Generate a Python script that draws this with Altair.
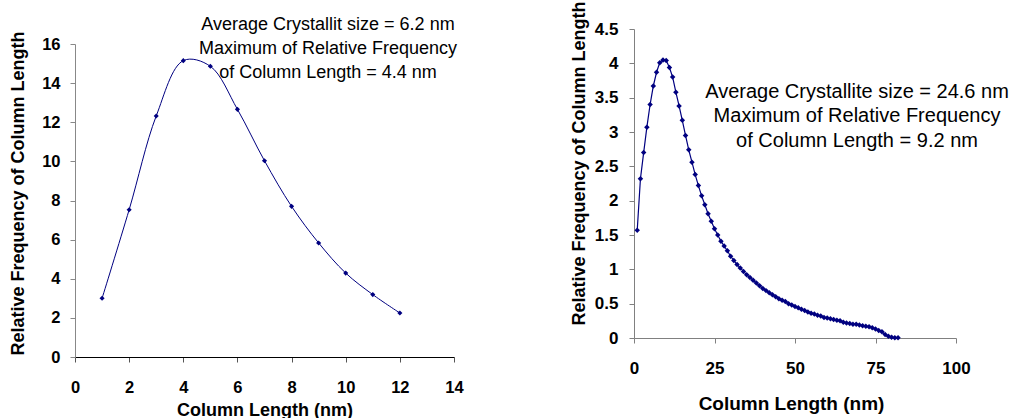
import altair as alt
import pandas as pd

# ---------------- data ----------------
left_x = [1, 2, 3, 4, 5, 6, 7, 8, 9, 10, 11, 12]
left_y = [3.0, 7.53, 12.32, 15.15, 14.86, 12.66, 10.03, 7.70, 5.83, 4.29, 3.19, 2.25]

right_x = list(range(1, 83))
right_y = [
    1.57, 2.32, 2.70, 3.07, 3.40, 3.67, 3.87, 4.01, 4.05, 4.04,
    3.94, 3.80, 3.58, 3.38, 3.17, 2.95, 2.74, 2.56, 2.38, 2.22,
    2.07, 1.94, 1.81, 1.70, 1.59, 1.50, 1.41, 1.34, 1.27,
    1.19, 1.13, 1.07, 1.02, 0.97, 0.92, 0.88, 0.84, 0.80, 0.76, 0.72,
    0.69, 0.66, 0.63, 0.60, 0.57, 0.55, 0.53, 0.50, 0.48, 0.46,
    0.44, 0.42, 0.40, 0.38, 0.36, 0.35, 0.33, 0.32, 0.30, 0.29,
    0.28, 0.27, 0.26, 0.25, 0.23, 0.22, 0.21, 0.20, 0.20, 0.19,
    0.18, 0.17, 0.165, 0.15, 0.13, 0.11, 0.09, 0.05, 0.025, 0.01, 0.005, 0.003,
]

left_xticks = [0, 2, 4, 6, 8, 10, 12, 14]
left_yticks = [0, 2, 4, 6, 8, 10, 12, 14, 16]
right_xticks = [0, 25, 50, 75, 100]
right_yticks = [0, 0.5, 1, 1.5, 2, 2.5, 3, 3.5, 4, 4.5]

left_note = ["Average Crystallit size = 6.2 nm",
             "Maximum of Relative Frequency",
             "of Column Length = 4.4 nm"]
right_note = ["Average Crystallite size = 24.6 nm",
              "Maximum of Relative Frequency",
              "of Column Length = 9.2 nm"]

x_title = "Column Length (nm)"
y_title = "Relative Frequency of Column Length"

FONT = "Liberation Sans"
NAVY = "#000080"

left_df = pd.DataFrame({"x": left_x, "y": left_y})
right_df = pd.DataFrame({"x": right_x, "y": right_y})
one = pd.DataFrame({"a": [0]})

# ---------------- left chart ----------------
LW, LH = 379, 328
lx = alt.X("x:Q", scale=alt.Scale(domain=[0, 14], nice=False, zero=False),
           axis=alt.Axis(values=left_xticks, title=x_title, labelFontSize=16.5,
                         titleFontSize=18, labelPadding=17, titlePadding=6,
                         domainColor="#000000", tickColor="#555555"))
ly = alt.Y("y:Q", scale=alt.Scale(domain=[0, 16], nice=False, range=[LH, 15]),
           axis=alt.Axis(values=left_yticks, title=y_title, labelFontSize=16.5,
                         titleFontSize=18, labelPadding=10, titlePadding=14,
                         titleY=164, domainColor="#888888", tickColor="#888888"))

l_line = alt.Chart(left_df).mark_line(color=NAVY, strokeWidth=1,
                                      interpolate="catmull-rom").encode(x=lx, y=ly)
l_pts = alt.Chart(left_df).mark_point(shape="diamond", filled=True, color=NAVY,
                                      size=26, opacity=1).encode(x=lx, y=ly)
l_txt = alt.Chart(one).mark_text(text=left_note, font=FONT, fontSize=18,
                                 align="center", baseline="top", lineHeight=24,
                                 color="black").encode(x=alt.value(253), y=alt.value(-13.5))
left = alt.layer(l_line, l_pts, l_txt).properties(width=LW, height=LH)

# ---------------- right chart ----------------
RW, RH = 322, 309
rx = alt.X("x:Q", scale=alt.Scale(domain=[0, 100], nice=False),
           axis=alt.Axis(values=right_xticks, title=x_title, labelFontSize=17,
                         titleFontSize=19, labelPadding=17, titlePadding=18,
                         titleX=157, domainColor="#808080", tickColor="#808080"))
ry = alt.Y("y:Q", scale=alt.Scale(domain=[0, 4.5], nice=False),
           axis=alt.Axis(values=right_yticks, title=y_title, labelFontSize=17,
                         titleFontSize=18, labelPadding=11, titlePadding=6,
                         labelExpr="'' + datum.value",
                         titleY=134, domainColor="#808080", tickColor="#808080"))

r_line = alt.Chart(right_df).mark_line(color=NAVY, strokeWidth=1.2).encode(x=rx, y=ry)
r_pts = alt.Chart(right_df).mark_point(shape="diamond", filled=True, color=NAVY,
                                       size=30, opacity=1).encode(x=rx, y=ry)
r_txt = alt.Chart(one).mark_text(text=right_note, font=FONT, fontSize=20,
                                 align="center", baseline="top", lineHeight=24.5,
                                 color="black").encode(x=alt.value(223), y=alt.value(52.5))
right = alt.layer(r_line, r_pts, r_txt).properties(width=RW, height=RH)

chart = (
    alt.hconcat(left, right, spacing=106)
    .properties(padding={"left": 9, "top": 0, "right": 0, "bottom": 0},
                background="white")
    .configure_view(stroke=None)
    .configure_axis(grid=False, labelFont=FONT, titleFont=FONT,
                    labelFontWeight="bold", titleFontWeight="bold",
                    labelColor="black", titleColor="black", tickSize=5,
                    labelFlush=False, labelOverlap=False, domainWidth=1)
)

chart.save("out.html", embed_options={"renderer": "svg", "actions": False})
